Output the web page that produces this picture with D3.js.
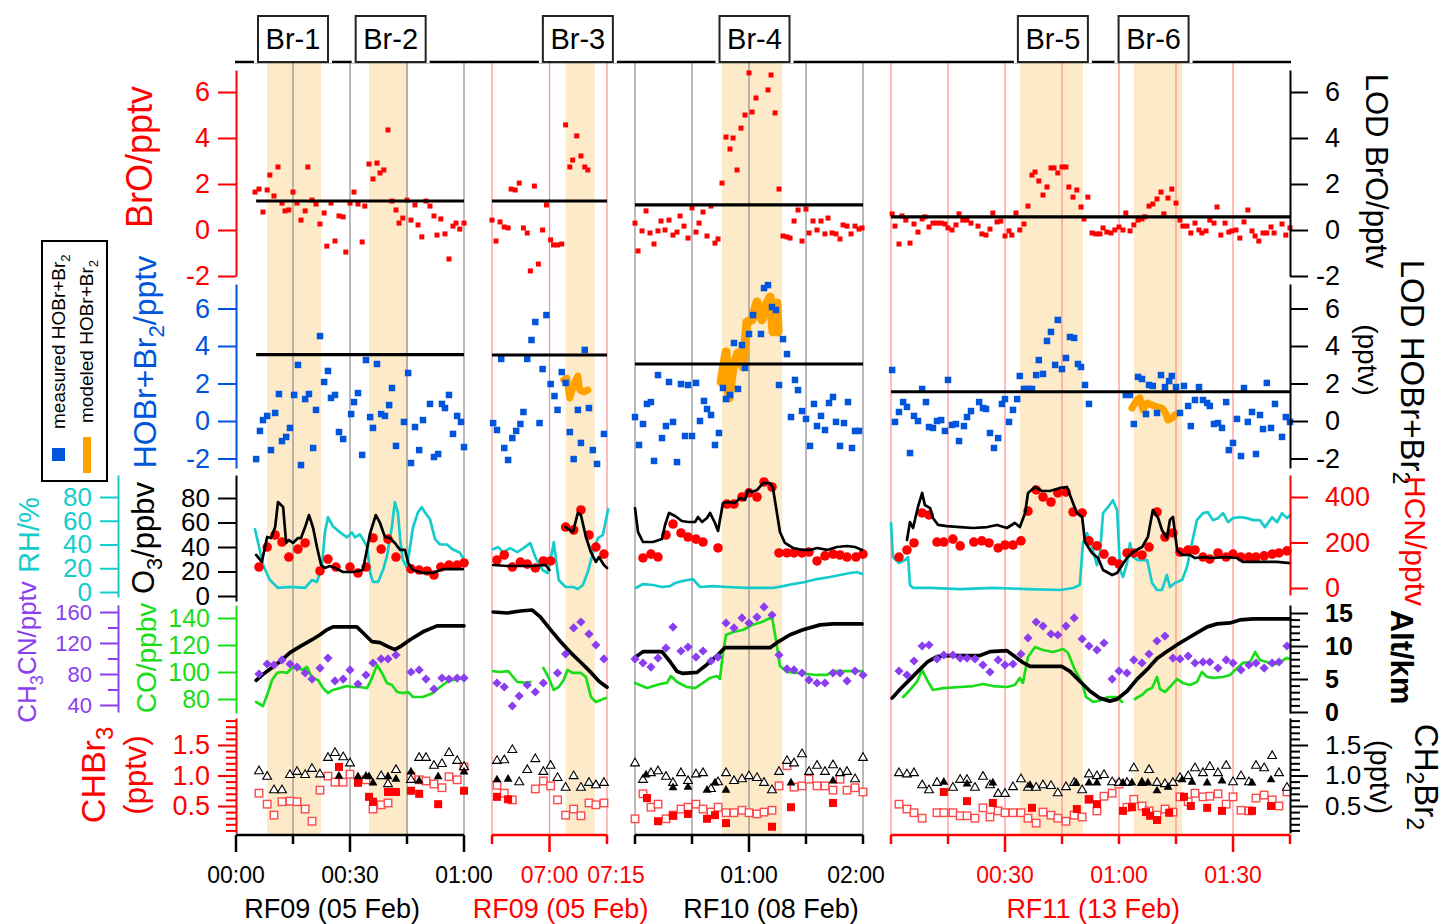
<!DOCTYPE html>
<html lang="en">
<head>
<meta charset="UTF-8">
<title>Bromine events RF09-RF11</title>
<script src="https://cdn.jsdelivr.net/npm/d3@7"></script>
<style>
  body { margin: 0; background: #fff; }
  svg { display: block; }
</style>
</head>
<body>
<svg id="svg" width="1444" height="924"></svg>
<script>
// ---- data (time in minutes within each flight window, value in axis units) ----
// windows: RF09 00:00-01:00, RF09 06:45-07:15, RF10 00:00-02:00, RF11 00:00-01:45
const segWindows = [[0, 60], [405, 435], [0, 120], [0, 105]];
const flightLabels = [["RF09 (05 Feb)", 25.3], ["RF09 (05 Feb)", 422.9], ["RF10 (08 Feb)", 71.6], ["RF11 (13 Feb)", 53.2]];
const tickTimes = [[0, 15, 30, 45, 60], [405, 420, 435], [0, 30, 60, 90, 120], [0, 15, 30, 45, 60, 75, 90, 105]];
const longTicks = [[0, 30, 60], [420], [60], [30, 90]];
const tickLabels = [
  [[0, "00:00", 0], [30, "00:30", 0], [60, "01:00", 0]],
  [[420, "07:00", 0], [435, "07:15", 9]],
  [[60, "01:00", 0], [120, "02:00", -7]],
  [[30, "00:30", 0], [60, "01:00", 0], [90, "01:30", 0]]
];
const gridTimes = [[15, 30, 45, 60], [405, 420, 435], [0, 30, 60, 90, 120], [0, 15, 30, 45, 60, 75, 90]];
// event name, window, start, end, label centre
const events = [["Br-1", 0, 8.2, 22.4, 15], ["Br-2", 0, 35, 45.3, 40.7], ["Br-3", 1, 424.2, 431.8, 427.4],
  ["Br-4", 2, 45.8, 77.4, 62.9], ["Br-5", 3, 33.9, 50.5, 42.6], ["Br-6", 3, 63.9, 76.6, 69.1]];

const broLOD = [1.26, 1.26, 1.09, 0.57];
const hobrLOD = [3.54, 3.52, 3.04, 1.56];
const lodSpan = [[5.3, 60], [405, 435], [0, 120], [0, 105]];

const broData = [
  [[5.0,1.65],[6.05,1.78],[7.1,0.78],[8.2,1.74],[8.9,2.39],[10.0,1.48],[11.05,2.74],[12.1,1.17],[12.9,0.83],[13.9,0.87],[15.0,1.65],[16.05,1.17],[17.1,0.43],[18.2,0.83],[18.9,2.74],[20.0,1.30],[21.05,1.13],[22.1,0.26],[23.2,0.74],[23.9,-0.70],[25.0,1.17],[26.05,-0.48],[27.1,0.61],[28.2,0.57],[28.9,-0.96],[30.0,1.17],[31.05,1.65],[32.1,1.13],[33.2,-0.52],[33.9,1.04],[35.0,2.87],[36.05,2.22],[37.1,2.91],[37.9,2.48],[38.9,2.61],[40.0,4.35],[41.05,1.26],[42.1,0.87],[42.9,0.30],[43.9,0.52],[45.0,1.30],[46.05,0.43],[47.1,1.09],[47.9,0.22],[48.9,-0.30],[50.0,1.26],[51.05,1.04],[52.1,0.61],[52.9,-0.22],[53.9,0.48],[55.0,-0.17],[56.05,-1.26],[57.1,0.17],[57.9,0.30],[58.9,0.04],[60.0,0.30]],
  [[405.0,0.43],[406.05,-0.48],[407.1,0.35],[408.2,0.13],[409.2,0.09],[410.0,1.78],[411.05,1.74],[412.1,2.04],[413.2,0.09],[414.2,-0.13],[415.0,-1.78],[416.05,1.91],[417.1,-1.48],[418.2,0.0],[419.2,1.09],[420.3,-0.43],[421.05,-0.65],[422.1,-0.65],[423.2,-0.61],[424.2,4.57],[425.3,2.74],[426.05,3.04],[427.1,4.09],[428.2,3.22],[429.2,2.74],[430.0,2.61]],
  [[0,0.30],[1.6,-0.91],[3.7,-0.04],[5.8,0.83],[7.9,-0.13],[10.0,-0.61],[12.1,-0.04],[13.7,0.39],[15.8,0.0],[17.9,0.43],[20.0,-0.22],[22.1,-0.09],[23.7,0.61],[25.8,0.17],[27.9,-0.35],[30.0,0.96],[32.1,-0.09],[33.7,0.30],[35.8,0.78],[37.9,-0.26],[40.0,1.04],[42.1,-0.57],[43.7,-0.39],[45.8,2.04],[47.9,4.04],[50.0,3.52],[51.6,4.0],[53.7,2.61],[55.8,4.43],[57.9,5.0],[60.0,6.83],[61.6,5.13],[63.7,5.74],[70.0,6.09],[71.6,6.74],[73.7,5.09],[75.8,1.78],[77.9,-0.26],[80.0,-0.30],[81.6,-0.35],[83.7,0.39],[85.8,0.87],[87.9,-0.48],[90.0,0.91],[91.6,-0.13],[93.7,0.39],[95.8,0.0],[97.9,0.39],[100.0,-0.17],[101.6,0.52],[103.7,-0.13],[105.8,-0.17],[107.9,-0.39],[109.5,0.22],[111.6,0.17],[113.7,-0.17],[115.8,0.17],[117.9,0.04],[119.5,0.09]],
  [[0.3,0.70],[1.05,0.17],[2.1,-0.61],[2.9,0.61],[3.9,0.43],[5.0,-0.57],[6.05,0.26],[7.1,-0.09],[8.2,0.48],[8.9,0.57],[10.0,0.13],[11.05,0.30],[12.1,0.30],[13.2,0.30],[14.2,0.26],[15.0,0.09],[16.05,0.0],[17.1,0.22],[17.9,0.70],[18.9,0.43],[20.0,0.43],[21.05,0.30],[22.9,0.17],[23.9,-0.17],[25.0,-0.22],[26.05,0.04],[26.8,0.74],[27.9,0.35],[28.9,0.39],[30.0,-0.26],[31.05,-0.04],[31.8,-0.22],[32.9,0.74],[33.9,0.0],[35.0,0.26],[36.05,1.04],[37.1,2.39],[37.9,2.52],[38.9,2.13],[40.0,1.52],[41.05,1.87],[42.1,2.70],[42.9,2.70],[43.9,2.48],[45.0,2.74],[46.05,2.74],[46.8,1.87],[47.9,1.43],[48.9,1.74],[50.0,1.0],[50.8,0.48],[51.8,1.43],[52.9,-0.13],[53.9,-0.17],[55.0,-0.17],[55.8,0.09],[56.8,-0.09],[57.9,-0.13],[58.9,0.0],[60.0,0.13],[61.05,0.0],[61.8,0.74],[62.9,-0.04],[63.9,0.22],[65.0,0.43],[66.05,0.48],[66.8,0.57],[67.9,1.04],[68.9,1.13],[70.0,1.35],[71.05,1.65],[71.8,0.70],[72.9,1.39],[73.9,1.78],[75.0,1.17],[76.05,0.43],[76.8,0.17],[77.9,0.17],[78.9,-0.13],[80.0,0.30],[81.05,0.0],[81.8,-0.13],[82.9,-0.04],[83.9,0.43],[85.0,0.30],[85.8,1.0],[86.8,-0.22],[87.9,0.30],[88.9,-0.09],[89.7,-0.04],[90.8,0.0],[91.8,-0.35],[92.9,0.35],[93.9,0.87],[95.0,-0.04],[95.8,-0.26],[96.8,-0.48],[97.9,-0.13],[98.9,-0.13],[100.0,0.13],[100.8,-0.13],[102.9,0.26],[103.9,-0.22],[105.0,0.09]]
];

const hobrData = [
  [[5.3,-2.03],[6.3,-0.53],[7.1,0.05],[8.2,0.27],[9.2,-1.55],[10.3,0.43],[11.3,1.44],[12.1,-1.07],[13.2,-0.85],[14.2,-0.37],[15.3,1.39],[16.3,2.99],[17.1,-2.35],[18.2,1.17],[19.2,1.44],[20.3,-1.44],[21.05,0.59],[22.1,4.53],[23.2,2.08],[24.2,2.67],[25.0,1.23],[26.05,1.39],[27.1,-0.59],[28.2,-0.96],[30.3,0.37],[31.05,1.01],[32.1,1.49],[33.2,-1.81],[34.2,3.25],[35.3,0.21],[36.05,-0.37],[37.1,3.04],[38.2,0.37],[39.2,0.27],[40.3,0.85],[41.05,1.76],[42.1,-1.33],[44.2,-0.05],[45.3,2.56],[46.05,-2.24],[47.1,-0.32],[48.2,-1.55],[49.2,0.05],[51.05,0.91],[52.1,-1.92],[53.2,-1.76],[54.2,0.91],[55.0,0.69],[56.05,1.39],[57.1,-0.69],[58.2,0.27],[59.2,-0.05],[60.0,-1.39]],
  [[405.3,-0.11],[406.3,-0.48],[407.4,3.31],[408.2,-1.44],[409.2,-2.08],[410.3,-0.91],[411.3,-0.53],[412.4,-0.16],[413.2,0.48],[414.2,3.31],[415.3,4.32],[416.3,5.28],[417.4,-0.11],[418.2,2.77],[419.2,5.65],[420.3,1.97],[421.3,1.33],[422.1,0.59],[423.2,2.61],[424.2,2.03],[425.3,-0.59],[426.3,-2.03],[427.4,0.59],[428.2,-1.17],[429.2,3.79],[430.3,0.69],[431.3,-1.55],[432.4,-2.29],[434.2,-0.69]],
  [[0,0.21],[2.1,-1.28],[4.2,-0.16],[6.3,0.91],[8.4,1.01],[10.0,-2.13],[12.1,2.45],[14.2,-0.91],[16.3,-0.27],[17.9,2.08],[20.0,-0.05],[22.1,-2.19],[24.2,1.97],[26.3,-0.80],[27.9,1.92],[30.0,-0.80],[32.1,2.03],[34.2,0.0],[36.3,1.07],[37.9,0.64],[40.0,0.32],[42.1,-1.28],[44.2,-0.64],[46.3,1.76],[47.9,1.17],[50.0,1.39],[52.1,4.16],[54.2,1.71],[56.3,4.05],[57.9,2.83],[60.0,4.64],[62.1,5.65],[66.3,4.64],[67.9,7.09],[70.0,7.25],[72.1,6.08],[74.2,5.92],[75.8,1.92],[77.9,4.37],[80.0,3.57],[82.1,0.21],[84.2,2.19],[85.8,1.65],[87.9,0.53],[90.0,0.11],[92.1,-1.33],[94.2,0.91],[95.8,-0.27],[97.9,0.27],[100.0,-0.48],[102.1,0.96],[104.2,1.28],[105.8,-0.05],[107.9,-1.33],[110.0,-0.11],[112.1,1.01],[114.2,-1.44],[115.8,-0.53],[117.9,-0.53]],
  [[0.3,2.72],[1.05,-0.05],[2.1,0.48],[3.2,1.01],[4.2,0.75],[5.0,-1.71],[6.05,0.27],[7.1,0.0],[8.2,1.71],[9.2,1.01],[10.0,-0.32],[11.05,-0.37],[12.1,0.0],[13.2,0.05],[14.2,-0.53],[15.0,2.19],[16.05,-0.21],[17.1,-0.16],[17.9,-1.07],[19.2,-0.27],[20.0,0.21],[21.05,0.53],[23.2,1.01],[24.2,0.69],[25.0,0.64],[26.05,-0.64],[27.1,-1.44],[28.2,-0.91],[29.2,0.91],[30.0,1.17],[31.05,-0.05],[32.1,0.59],[33.2,1.17],[33.9,2.40],[35.0,1.71],[36.05,1.71],[37.1,1.71],[38.2,2.45],[38.9,3.25],[40.0,2.51],[41.05,4.27],[42.1,4.75],[43.2,2.99],[43.9,5.39],[45.0,2.77],[46.05,3.36],[47.1,4.48],[48.2,4.43],[49.2,3.04],[50.0,2.88],[51.05,1.92],[52.1,0.91],[61.8,1.39],[62.9,1.39],[63.9,-0.16],[65.0,2.35],[66.05,2.24],[67.1,0.37],[67.9,1.92],[68.9,1.87],[70.0,0.43],[71.05,2.45],[72.1,1.81],[73.2,2.13],[73.9,2.40],[75.0,1.81],[76.05,0.43],[77.1,1.87],[78.2,0.80],[78.9,-0.27],[80.0,1.12],[81.05,1.81],[82.1,1.12],[83.2,0.96],[83.9,0.80],[85.0,-0.16],[86.05,-0.11],[87.1,-0.37],[88.2,1.01],[88.9,-1.55],[90.0,-1.17],[91.05,0.11],[92.1,-1.87],[92.9,1.76],[93.9,-0.05],[95.0,0.48],[96.05,-1.76],[97.1,0.32],[97.9,-0.43],[98.9,2.03],[100.0,-0.37],[101.05,0.91],[102.9,-0.85],[103.9,0.21],[105.0,-0.05]]
];

const hobrModel = [
  [],
  [[423.7,2.19],[424.5,2.29],[425.3,1.23],[426.3,1.92],[427.4,2.40],[427.9,1.65],[428.9,1.55],[430.0,1.65]],
  [[45.3,2.08],[47.9,3.68],[49.5,1.23],[51.6,2.88],[54.2,3.63],[56.8,2.88],[58.9,5.28],[61.6,5.39],[64.2,6.35],[66.8,5.39],[68.4,6.08],[71.1,6.61],[72.6,4.75],[74.7,6.29],[75.3,4.75]],
  [[63.4,0.69],[64.7,1.12],[65.5,1.23],[66.3,0.59],[67.4,0.96],[68.7,0.85],[70.0,0.75],[71.3,0.69],[72.1,0.48],[72.9,0.05],[74.0,0.16],[74.7,0.32]]
];

const o3Data = [
  [[5.3,33.5],[6.8,27.8],[8.2,48.2],[9.2,47.3],[10.3,56.3],[11.05,76.7],[12.4,72.7],[13.2,43.3],[13.9,45.7],[15.0,43.3],[16.3,47.3],[17.1,47.3],[18.2,56.3],[19.2,66.1],[20.3,55.5],[21.3,40.0],[22.4,25.3],[23.4,22.9],[24.7,24.5],[26.05,22.9],[28.2,19.6],[30.8,19.6],[33.4,21.2],[35.3,51.4],[36.8,66.1],[37.9,59.6],[39.2,48.2],[40.5,47.3],[41.8,43.3],[43.2,37.6],[44.5,37.6],[45.3,26.9],[46.6,21.2],[49.2,18.8],[51.8,18.8],[54.5,22.0],[57.1,22.0],[59.7,22.0]],
  [[405.3,25.3],[408.9,24.5],[412.4,24.5],[415.8,24.5],[419.0,25.3],[420.0,21.2],[422,null],[424.2,56.3],[426.1,52.2],[427.4,67.8],[428.2,66.1],[429.5,48.2],[430.8,35.9],[432.1,27.8],[432.9,31.8],[434.2,25.3],[435.0,22.9]],
  [[0,71.8],[1.6,52.2],[4.2,44.1],[9.5,44.1],[14.2,46.5],[15.8,58.0],[17.9,67.8],[21.1,65.3],[24.7,61.2],[27.9,60.4],[31.6,60.4],[33.2,64.5],[35.3,60.4],[37.9,63.7],[39.5,67.8],[42.1,59.6],[43.7,53.1],[46.3,75.9],[48.9,76.7],[52.6,75.9],[55.3,80.0],[57.9,78.4],[59.5,86.5],[61.6,84.9],[64.2,86.5],[67.4,92.2],[71.1,92.2],[72.6,88.2],[74.7,67.8],[76.3,52.2],[78.9,43.3],[83.2,39.2],[87.9,37.6],[92.1,37.6],[95.8,39.2],[101.1,37.6],[106.3,40.0],[111.6,40.8],[115.8,40.0],[119.5,37.6]],
  [[4.2,45.7],[5.0,60.4],[5.8,55.5],[7.1,72.7],[8.2,84.1],[8.9,74.3],[10.3,71.8],[11.05,63.7],[12.4,58.0],[14.7,57.1],[18.2,56.3],[21.6,55.5],[25.3,56.3],[27.9,58.0],[30.5,55.5],[32.6,59.6],[33.9,56.3],[35.3,67.8],[36.05,84.1],[37.9,89.0],[39.7,85.7],[41.8,85.7],[44.5,88.2],[46.3,89.0],[47.6,78.4],[48.9,67.8],[50.3,64.5],[51.05,44.1],[52.9,35.1],[54.5,31.0],[55.8,21.2],[58.2,17.1],[59.5,18.8],[60.8,25.3],[62.1,31.0],[63.7,35.9],[66.1,40.0],[67.6,48.2],[68.9,70.2],[70.3,63.7],[71.3,53.9],[72.6,47.3],[73.4,62.0],[74.2,64.5],[75.3,37.6],[76.6,33.5],[78.7,33.5],[80.0,31.0],[82.1,31.8],[84.7,31.0],[88.4,31.8],[91.1,31.0],[92.6,27.8],[97.1,27.8],[101.6,27.8],[105.0,26.9]]
];

const rhData = [
  [[5.0,52.8],[5.8,41.7],[7.1,23.0],[8.9,10.2],[11.05,3.4],[14.2,4.3],[18.2,3.4],[20.0,10.2],[21.3,8.5],[22.6,21.3],[23.4,50.2],[24.2,63.0],[25.5,55.3],[27.4,50.2],[29.2,46.0],[30.5,50.2],[31.3,46.0],[32.6,48.5],[33.4,44.3],[34.5,38.3],[35.3,16.2],[36.05,8.5],[37.4,8.5],[38.7,18.7],[39.7,29.8],[41.05,55.3],[41.8,75.7],[42.6,67.2],[43.2,44.3],[43.9,27.2],[45.0,20.4],[45.8,38.3],[46.6,54.5],[47.9,67.2],[48.9,71.5],[49.7,67.2],[51.05,61.3],[52.4,44.3],[53.7,40.0],[55.5,40.0],[57.1,35.7],[58.9,33.2],[60.0,27.2]],
  [[405.3,36.1],[406.6,37.8],[407.9,33.6],[409.7,37.0],[411.6,33.6],[413.2,37.0],[415.0,41.2],[416.3,29.4],[418.2,18.5],[419.5,16.0],[420.3,26.9],[421.1,42.0],[422.4,10.1],[424.2,4.2],[426.1,4.2],[427.4,2.5],[428.7,5.9],[430.0,16.8],[431.3,32.8],[432.6,45.4],[433.9,47.9],[435.3,69.7]],
  [[0.5,3.4],[4.2,6.7],[9.5,5.9],[14.2,4.2],[18.4,5.0],[21.1,7.6],[24.7,9.2],[27.9,10.1],[30.5,10.9],[34.2,4.2],[41.1,5.0],[48.4,4.2],[58.9,3.4],[72.6,3.4],[77.9,5.0],[83.2,6.7],[89.5,8.4],[95.8,10.9],[102.6,12.6],[107.9,14.3],[113.2,16.0],[116.8,16.8],[119.5,15.1]],
  [[0,58.0],[0.5,29.4],[2.1,24.4],[3.7,26.9],[4.5,29.4],[5.0,5.9],[5.8,3.4],[10.3,3.4],[18.2,2.5],[26.8,3.4],[35.8,2.5],[44.5,1.7],[47.9,3.4],[49.7,5.9],[50.5,41.2],[51.6,49.6],[52.9,37.8],[54.2,22.7],[55.0,32.8],[55.8,66.4],[57.1,71.4],[58.4,77.3],[59.5,68.9],[60.3,18.5],[61.05,12.6],[62.1,24.4],[62.9,41.2],[63.7,29.4],[65.0,26.9],[67.4,26.9],[68.7,7.6],[70.0,1.7],[71.3,1.7],[72.6,14.3],[73.4,4.2],[74.7,7.6],[76.6,10.1],[77.9,21.0],[79.2,41.2],[80.5,60.5],[82.1,66.4],[83.4,67.2],[84.7,60.5],[86.05,62.2],[87.4,66.4],[88.7,58.8],[90.0,62.2],[91.8,63.0],[93.7,62.2],[95.3,60.5],[97.1,60.5],[98.4,54.6],[100.3,63.0],[101.6,58.8],[102.9,66.4],[104.2,62.2],[105.0,64.7]]
];

const hcnData = [
  [[6.05,92],[8.2,180],[10.3,233],[12.1,202],[13.9,136],[16.3,171],[18.2,198],[22.1,75],[24.2,127],[26.3,92],[30.0,92],[32.1,66],[34.2,92],[36.05,220],[38.2,171],[40.0,215],[42.1,136],[46.05,84],[48.2,79],[50.3,75],[52.1,57],[53.9,92],[56.05,101],[58.2,101],[60.0,110]],
  [[406.3,123],[408.2,145],[410.3,92],[412.4,114],[414.2,105],[416.3,88],[418.4,119],[420.3,119],[424.2,268],[426.3,255],[428.2,343],[430.3,233],[432.1,180],[434.2,149]],
  [[4.2,132],[8.4,149],[12.1,136],[16.3,233],[20.0,281],[24.2,242],[27.9,224],[32.1,215],[35.8,202],[43.7,176],[48.4,369],[52.1,369],[56.3,400],[60.0,418],[64.2,400],[67.9,466],[72.1,444],[75.8,154],[80.0,154],[83.7,154],[87.9,154],[91.6,158],[95.8,119],[100.0,141],[104.2,149],[107.9,145],[111.6,136],[116.3,136],[120.0,149]],
  [[2.1,136],[4.2,167],[6.05,198],[8.2,330],[10.0,321],[12.1,202],[13.9,202],[16.3,215],[18.2,185],[21.8,202],[23.9,207],[25.8,198],[28.2,176],[30.0,189],[32.1,189],[34.2,207],[36.05,338],[38.2,431],[40.0,400],[42.1,378],[43.9,418],[46.05,422],[47.9,334],[50.3,330],[52.1,207],[54.2,185],[56.05,149],[58.2,119],[60.0,105],[62.1,154],[63.9,154],[66.05,145],[67.9,180],[70.0,334],[72.1,224],[74.2,242],[76.05,158],[78.2,167],[80.0,167],[82.1,136],[83.9,127],[86.05,154],[88.2,136],[90.0,149],[92.1,136],[94.2,136],[96.05,136],[98.2,141],[100.3,149],[102.1,154],[104.2,163]]
];

const coData = [
  [[5.3,77.8],[7.1,74.8],[8.2,83.0],[9.5,94.1],[10.8,99.3],[12.1,100.0],[13.4,99.3],[14.7,103.0],[16.05,103.7],[17.4,101.5],[18.7,103.7],[20.0,95.6],[21.6,94.1],[22.9,88.1],[24.2,84.4],[25.5,86.7],[27.4,88.1],[29.2,89.6],[30.8,88.9],[32.6,88.9],[34.5,88.1],[35.8,95.6],[37.1,105.2],[38.4,99.3],[39.7,91.9],[41.05,90.4],[42.4,85.2],[43.9,84.4],[45.3,85.2],[46.6,81.5],[49.2,81.5],[51.8,84.4],[53.7,88.9],[55.5,92.6],[57.1,94.1],[60.0,95.6]],
  [[405.3,100.7],[407.1,100.0],[409.2,100.7],[410.5,96.3],[411.6,92.6],[414.2,91.9],[415.0,92.6],[416.5,null],[418.4,103.0],[419.7,96.3],[421.1,86.7],[422.4,88.9],[423.7,94.1],[424.7,101.5],[426.1,99.3],[428.2,99.3],[429.5,96.3],[430.8,81.5],[432.1,77.8],[434.7,80.7]],
  [[0,91.9],[6.3,88.1],[13.2,91.1],[16.8,91.9],[18.9,97.0],[22.1,92.6],[27.4,88.9],[31.6,88.1],[35.8,91.9],[39.5,95.6],[43.2,97.0],[44.7,94.8],[46.3,114.1],[47.9,127.4],[51.6,129.6],[56.8,131.1],[61.6,134.8],[66.8,137.0],[72.1,140.7],[74.2,123.7],[76.3,104.4],[80.0,100.0],[85.3,99.3],[90.5,98.5],[95.8,97.8],[101.1,97.8],[104.2,100.7],[111.6,100.7],[119.5,100.7]],
  [[3.2,81.5],[5.0,86.7],[6.8,92.6],[8.2,101.5],[9.5,94.1],[11.05,86.7],[13.7,88.1],[18.2,88.9],[21.6,89.6],[24.2,91.1],[26.8,89.6],[30.5,88.9],[32.6,90.4],[33.9,95.6],[34.7,91.9],[36.05,111.1],[37.9,118.5],[40.0,116.3],[42.6,114.8],[45.3,117.0],[46.6,114.1],[48.4,101.5],[50.3,91.9],[51.3,81.5],[53.2,77.8],[55.5,79.3],[57.1,81.5],[59.5,81.5],[60.8,77.8],[62.5,null],[64.2,80.0],[66.05,83.0],[67.4,86.7],[68.7,88.1],[70.0,96.3],[70.8,87.4],[72.1,85.2],[73.9,90.4],[75.3,94.8],[76.8,91.9],[78.7,90.4],[80.5,92.6],[81.8,100.0],[83.2,96.3],[84.7,95.6],[87.4,96.3],[89.2,97.8],[91.1,103.0],[92.6,106.7],[94.5,107.4],[95.8,114.8],[97.1,108.9],[98.9,107.4],[100.5,105.2],[102.4,107.4],[104.2,110.4],[105.0,109.6]]
];

const ch3cnData = [
  [[6.05,80.0],[8.2,92.9],[10.0,91.6],[12.1,98.1],[14.2,92.9],[16.05,89.0],[18.2,81.3],[20.0,73.5],[22.1,87.7],[24.2,100.6],[26.05,71.0],[28.2,73.5],[30.0,85.2],[32.1,67.1],[34.2,78.7],[36.05,94.2],[38.2,99.4],[40.0,99.4],[42.1,104.5],[46.05,82.6],[48.2,85.2],[50.0,73.5],[52.1,60.6],[54.2,74.8],[56.05,73.5],[58.2,74.8],[60.0,74.8]],
  [[406.3,68.4],[408.2,63.2],[410.3,38.7],[412.1,51.6],[414.2,65.8],[416.3,56.8],[418.4,68.4],[422.1,81.3],[424.2,105.8],[426.3,139.4],[428.2,147.1],[430.3,131.6],[432.1,117.4],[434.2,99.4]],
  [[0,99.4],[4.2,94.2],[8.4,89.0],[12.1,100.6],[16.3,113.5],[20.0,140.6],[24.2,109.7],[27.9,114.8],[32.1,101.9],[35.8,109.7],[40.0,96.8],[43.7,101.9],[47.9,145.8],[52.1,139.4],[56.3,152.3],[60.0,145.8],[64.2,153.5],[67.9,166.5],[72.1,156.1],[75.8,104.5],[80.0,86.5],[83.7,85.2],[87.9,81.3],[91.6,72.3],[95.8,68.4],[100.0,68.4],[104.2,81.3],[107.9,81.3],[111.6,71.0],[115.8,83.9],[120.0,78.7]],
  [[2.1,83.9],[4.2,78.7],[6.05,96.8],[8.2,116.1],[10.0,117.4],[12.1,99.4],[13.9,104.5],[16.3,104.5],[18.2,100.6],[20.0,100.6],[22.1,99.4],[24.2,91.6],[26.05,82.6],[28.2,98.1],[30.0,91.6],[32.1,92.9],[34.2,105.8],[36.05,126.5],[38.2,147.1],[40.0,141.9],[42.1,131.6],[43.9,130.3],[46.05,141.9],[48.2,152.3],[50.3,125.2],[52.1,116.1],[54.2,111.0],[56.05,120.0],[58.2,73.5],[60.0,83.9],[62.1,81.3],[63.9,98.1],[66.05,94.2],[67.9,105.8],[70.0,122.6],[72.1,129.0],[74.2,100.6],[76.05,99.4],[78.2,103.2],[80.0,94.2],[82.1,95.5],[83.9,95.5],[86.05,87.7],[88.2,98.1],[90.0,94.2],[92.1,85.2],[94.2,91.6],[96.05,94.2],[98.2,87.7],[100.3,94.2],[102.1,95.5],[104.2,116.1]]
];

const altData = [
  [[5.3,4.8],[7.1,5.7],[9.5,6.75],[11.6,7.65],[14.2,9.0],[16.8,9.9],[20.0,10.95],[22.1,11.7],[23.9,12.45],[25.5,12.9],[28.2,12.9],[31.8,12.9],[33.4,12.0],[35.8,10.65],[37.9,10.5],[40.0,9.9],[41.8,9.45],[43.2,9.9],[45.8,10.95],[49.2,12.15],[52.9,13.05],[56.3,13.05],[60.0,13.05]],
  [[405.3,15.15],[408.9,15.0],[412.4,15.3],[415.5,15.45],[417.6,14.4],[420.3,12.45],[422.9,10.65],[425.5,9.0],[428.2,7.5],[430.8,6.0],[432.9,4.65],[435.0,3.75]],
  [[0,8.25],[4.2,9.15],[14.2,9.15],[18.4,7.65],[22.1,6.15],[25.3,5.85],[32.6,6.0],[37.9,7.2],[43.2,8.55],[47.4,9.75],[58.9,9.75],[71.1,9.75],[74.7,10.5],[81.6,11.7],[88.4,12.45],[97.4,13.2],[104.2,13.35],[119.5,13.35]],
  [[0.3,2.1],[2.4,3.45],[5.0,4.95],[7.6,6.45],[9.7,7.65],[12.1,8.4],[14.7,8.55],[18.2,8.55],[23.4,8.55],[26.05,9.15],[30.5,9.3],[32.6,8.4],[34.7,7.5],[36.6,6.9],[40.0,6.9],[45.0,6.9],[47.1,6.15],[49.7,4.65],[52.4,3.15],[55.0,2.1],[57.6,1.65],[59.5,1.95],[62.1,3.15],[64.7,4.95],[67.4,6.45],[70.0,8.1],[72.6,9.15],[75.3,10.2],[77.9,11.1],[80.5,12.0],[83.2,12.9],[85.8,13.35],[89.2,13.5],[91.8,13.95],[95.3,14.1],[105.0,14.1]]
];

const ch2br2Open = [
  [[6.05,1.07],[8.2,0.98],[10.0,0.76],[12.1,0.76],[14.2,1.01],[16.05,1.06],[18.2,1.01],[20.0,1.11],[22.1,1.02],[24.2,1.29],[26.05,1.37],[28.2,1.30],[30.0,1.20],[38.2,0.99],[40.0,0.86],[42.1,1.09],[46.05,0.93],[48.2,1.29],[50.0,1.29],[52.1,1.16],[54.2,1.19],[56.05,1.37],[58.2,1.24],[60.0,1.14]],
  [[406.3,1.24],[408.2,1.25],[410.3,1.42],[412.1,0.89],[414.2,1.09],[416.3,1.27],[418.4,1.06],[420.3,1.16],[422.1,0.96],[424.2,0.80],[426.3,0.99],[428.2,0.80],[430.3,0.88],[432.1,0.84],[434.2,0.88]],
  [[0,1.20],[4.2,0.93],[8.4,1.04],[12.1,1.07],[16.3,0.98],[20.0,0.88],[24.2,1.04],[27.9,0.91],[32.1,1.02],[35.8,1.04],[40.0,0.78],[43.7,0.89],[47.9,1.04],[52.1,0.91],[56.3,0.94],[60.0,0.99],[64.2,0.96],[67.9,0.88],[72.1,0.76],[75.8,1.06],[80.0,1.24],[83.7,1.20],[87.9,1.35],[91.6,1.06],[95.8,1.16],[100.0,1.06],[104.2,1.17],[107.9,1.04],[111.6,1.06],[115.8,0.94],[120.0,1.29]],
  [[2.1,1.04],[4.2,1.02],[6.05,1.04],[8.2,0.84],[10.0,0.76],[12.1,0.88],[16.3,0.80],[18.2,0.93],[20.0,0.93],[22.1,0.80],[24.2,0.98],[26.05,0.84],[28.2,0.70],[30.0,0.70],[32.1,0.81],[34.2,0.94],[36.05,0.80],[38.2,0.80],[40.0,0.84],[42.1,0.83],[43.9,0.71],[46.05,0.81],[48.2,0.88],[50.3,0.76],[52.1,1.02],[54.2,0.99],[56.05,1.01],[58.2,0.89],[60.0,0.88],[62.1,0.88],[63.9,1.12],[66.05,0.88],[67.9,1.09],[70.0,0.88],[72.1,0.86],[74.2,0.88],[76.05,0.96],[78.2,0.99],[80.0,1.12],[82.1,1.04],[83.9,1.14],[86.05,1.04],[88.2,1.16],[90.0,0.89],[92.1,0.99],[94.2,0.89],[96.05,1.16],[98.2,1.12],[100.3,1.32],[102.1,1.04],[104.2,0.80]]
];
const ch2br2Fill = [
  [[27.1,0.99],[32.1,0.98],[34.2,0.99],[35.0,0.98],[36.05,0.88],[40.0,0.98],[42.1,0.94],[46.05,1.06],[48.2,0.91],[53.2,0.98],[60.0,1.06]],
  [[406.3,0.93],[409.2,0.94]],
  [[5.8,1.01],[20.0,0.80],[27.9,0.81],[37.9,0.76],[42.1,0.88],[47.9,0.76],[82.1,0.88],[104.2,0.91]],
  [[13.9,0.89],[20.0,0.86],[26.8,0.88],[36.6,0.84],[48.7,0.88],[52.1,0.88],[54.2,0.88],[61.05,0.88],[63.4,0.88],[66.05,0.88],[67.6,0.88],[70.0,0.75],[72.9,0.81],[76.6,0.93],[79.2,0.89],[83.2,0.88],[87.1,0.91],[95.0,0.88],[100.0,0.93]]
];
const chbr3Open = [
  [[6.05,0.71],[8.2,0.53],[10.0,0.35],[12.1,0.57],[14.2,0.58],[16.05,0.57],[18.2,0.45],[20.0,0.25],[22.1,0.76],[24.2,0.99],[26.05,0.89],[28.2,0.89],[30.0,1.02],[34.2,0.93],[36.05,0.45],[38.2,0.52],[40.0,0.55],[46.05,0.99],[48.2,0.93],[50.0,0.91],[52.1,0.86],[54.2,0.80],[56.05,0.98],[58.2,0.93],[60.0,1.14]],
  [[406.3,0.84],[408.2,0.71],[410.3,0.60],[416.3,0.78],[418.4,0.91],[420.3,0.83],[422.1,0.60],[424.2,0.35],[426.3,0.45],[428.2,0.34],[430.3,0.55],[432.1,0.52],[434.2,0.55]],
  [[0,0.29],[4.2,0.70],[8.4,0.48],[12.1,0.53],[16.3,0.29],[20.0,0.35],[24.2,0.45],[27.9,0.48],[32.1,0.53],[35.8,0.45],[40.0,0.40],[43.7,0.48],[47.9,0.39],[52.1,0.39],[56.3,0.43],[60.0,0.39],[64.2,0.37],[67.9,0.40],[72.1,0.43],[75.8,0.83],[80.0,1.16],[83.7,0.81],[87.9,0.83],[91.6,0.94],[95.8,0.83],[100.0,0.83],[104.2,0.76],[107.9,0.94],[111.6,0.76],[115.8,0.80],[120.0,0.73]],
  [[2.1,0.53],[4.2,0.45],[6.05,0.39],[8.2,0.30],[12.1,0.39],[13.9,0.39],[16.3,0.39],[18.2,0.34],[20.0,0.34],[22.1,0.30],[24.2,0.47],[26.05,0.32],[28.2,0.42],[30.0,0.39],[32.1,0.39],[34.2,0.39],[36.05,0.30],[38.2,0.22],[40.0,0.40],[42.1,0.35],[43.9,0.30],[46.05,0.25],[48.2,0.35],[50.3,0.32],[52.1,0.61],[54.2,0.42],[56.05,0.66],[58.2,0.71],[60.0,0.86],[62.1,0.48],[63.9,0.61],[66.05,0.50],[67.9,0.42],[70.0,0.35],[72.1,0.45],[74.2,0.40],[76.05,0.65],[78.2,0.57],[80.0,0.71],[82.1,0.65],[83.9,0.66],[86.05,0.70],[88.2,0.53],[90.0,0.65],[92.1,0.43],[94.2,0.42],[96.05,0.63],[98.2,0.68],[100.3,0.60],[102.1,0.50],[104.2,0.73]]
];
const chbr3Fill = [
  [[27.1,1.14],[32.1,0.88],[35.0,0.65],[36.05,0.57],[40.0,0.73],[42.1,0.73],[46.05,0.75],[48.2,0.70],[53.2,0.53],[60.0,0.75]],
  [[406.3,0.65],[409.2,0.61]],
  [[6.3,0.63],[12.1,0.25],[20.0,0.34],[27.9,0.37],[37.9,0.29],[42.1,0.35],[47.9,0.22],[72.1,0.16],[82.1,0.48],[104.2,0.55]],
  [[13.9,0.73],[20.0,0.58],[26.8,0.55],[37.1,0.47],[48.9,0.45],[52.1,0.61],[54.2,0.53],[61.05,0.42],[63.4,0.48],[67.1,0.40],[68.2,0.34],[70.0,0.27],[73.2,0.39],[77.1,0.65],[78.9,0.50],[83.2,0.47],[87.1,0.42],[95.0,0.42],[100.0,0.50]]
];

// ---- layout & style ----
const FONT = "'Liberation Sans', Arial, Helvetica, sans-serif";
const RED = "#ff0000", BLUE = "#0055dd", CYAN = "#15cccc", GREEN = "#18dd18",
      PURPLE = "#8b3df0", ORANGE = "#ffa200", SHADE = "#fdeac8";
const segPx = [[236, 464], [492, 607], [635, 863], [891, 1290]];
const segColor = ["#000", RED, "#000", RED];
const gridColor = ["#8c8c8c", "#ff8c8c", "#8c8c8c", "#ff8c8c"];
const TOP = 62, BOTTOM = 835;

const svg = d3.select("#svg").attr("font-family", FONT);
svg.append("rect").attr("width", 1444).attr("height", 924).attr("fill", "#fff");

const xs = segWindows.map((w, i) => d3.scaleLinear().domain(w).range(segPx[i]));

// y scale from two calibration points, stretched to the drawn axis length
function yScale(v0, p0, v1, p1, top, bottom) {
  const s = d3.scaleLinear().domain([v0, v1]).range([p0, p1]);
  return s.domain([s.invert(bottom), s.invert(top)]).range([bottom, top]);
}
const yBrO = yScale(-2, 276, 6, 92, 70, 276);
const yHOBr = yScale(-2, 458.5, 6, 308.5, 284, 468);
const yO3 = yScale(0, 596, 80, 498, 475, 601);
const yRH = yScale(0, 592, 80, 497, 475, 597);
const yHCN = yScale(0, 588, 400, 497, 475, 595);
const yCO = yScale(80, 699, 140, 618, 605, 713);
const yCH3CN = yScale(40, 705, 160, 612, 605, 712);
const yAlt = yScale(0, 712, 15, 613, 605, 713);
const yBr = yScale(0.5, 806, 1.5, 745, 718, 833);

// shaded bromine events
events.forEach(([name, s, t0, t1]) => {
  svg.append("rect").attr("x", xs[s](t0)).attr("y", TOP)
    .attr("width", xs[s](t1) - xs[s](t0)).attr("height", BOTTOM - TOP).attr("fill", SHADE);
});

// vertical time grid
gridTimes.forEach((ts, i) => {
  svg.append("g").selectAll("line").data(ts).join("line")
    .attr("x1", d => xs[i](d)).attr("x2", d => xs[i](d))
    .attr("y1", TOP).attr("y2", BOTTOM)
    .attr("stroke", gridColor[i]).attr("stroke-width", 1.2);
});

// ---- mark helpers ----
function drawLine(data, y, color, width) {
  data.forEach((pts, i) => {
    svg.append("path").datum(pts)
      .attr("d", d3.line().defined(d => d[1] != null).x(d => xs[i](d[0])).y(d => y(d[1])))
      .attr("fill", "none").attr("stroke", color).attr("stroke-width", width)
      .attr("stroke-linejoin", "round").attr("stroke-linecap", "round");
  });
}
function drawSquares(data, y, s, fill, stroke) {
  data.forEach((pts, i) => {
    svg.append("g").selectAll("rect").data(pts).join("rect")
      .attr("x", d => xs[i](d[0]) - s / 2).attr("y", d => y(d[1]) - s / 2)
      .attr("width", s).attr("height", s)
      .attr("fill", fill).attr("stroke", stroke || "none").attr("stroke-width", 1.4);
  });
}
function drawSymbols(data, y, path, fill, stroke) {
  data.forEach((pts, i) => {
    svg.append("g").selectAll("path").data(pts).join("path")
      .attr("d", path)
      .attr("transform", d => `translate(${xs[i](d[0])},${y(d[1])})`)
      .attr("fill", fill).attr("stroke", stroke || "none").attr("stroke-width", 1.1);
  });
}
function drawCircles(data, y, r, fill) {
  data.forEach((pts, i) => {
    svg.append("g").selectAll("circle").data(pts).join("circle")
      .attr("cx", d => xs[i](d[0])).attr("cy", d => y(d[1])).attr("r", r).attr("fill", fill);
  });
}
function drawLOD(vals, y) {
  vals.forEach((v, i) => {
    svg.append("line").attr("x1", xs[i](lodSpan[i][0])).attr("x2", xs[i](lodSpan[i][1]))
      .attr("y1", y(v)).attr("y2", y(v)).attr("stroke", "#000").attr("stroke-width", 3.2);
  });
}

// panel 1: BrO
drawSquares(broData, yBrO, 5, RED);
drawLOD(broLOD, yBrO);

// panel 2: HOBr + Br2 (modelled band under the measured squares)
hobrModel.forEach((pts, i) => {
  svg.append("path").datum(pts)
    .attr("d", d3.line().x(d => xs[i](d[0])).y(d => yHOBr(d[1])))
    .attr("fill", "none").attr("stroke", ORANGE).attr("stroke-width", i === 2 ? 9 : 7)
    .attr("stroke-linejoin", "round").attr("stroke-linecap", "round");
});
drawSquares(hobrData, yHOBr, 6.5, BLUE);
drawLOD(hobrLOD, yHOBr);

// panel 3: RH, HCN, O3
drawLine(rhData, yRH, CYAN, 2.7);
drawCircles(hcnData, yHCN, 4.8, RED);
drawLine(o3Data, yO3, "#000", 2.7);

// panel 4: CO, altitude, CH3CN
drawLine(coData, yCO, GREEN, 2.7);
drawLine(altData, yAlt, "#000", 3.7);
drawSymbols(ch3cnData, yCH3CN, "M0,-4.6L4.6,0L0,4.6L-4.6,0Z", PURPLE);

// panel 5: CHBr3 and CH2Br2
const tri = d3.symbol(d3.symbolTriangle, 34)();
drawSquares(chbr3Open, yBr, 7.5, "#fff", "#ff4a4a");
drawSquares(chbr3Fill, yBr, 8, RED);
drawSymbols(ch2br2Open, yBr, tri, "#fff", "#000");
drawSymbols(ch2br2Fill, yBr, tri, "#000");

// ---- axes ----
function yAxis(side, scale, x, color, major, o = {}) {
  const make = side === "left" ? d3.axisLeft : d3.axisRight;
  const g = svg.append("g").attr("transform", `translate(${x},0)`)
    .call(make(scale).tickValues(major).tickSize(18).tickSizeOuter(0)
      .tickPadding(o.pad != null ? o.pad : 8).tickFormat(o.fmt || (d => String(d))));
  g.attr("font-family", FONT).attr("font-size", o.size || 26);
  g.select(".domain").attr("stroke", color).attr("stroke-width", 2);
  g.selectAll(".tick line").attr("stroke", color).attr("stroke-width", 2);
  g.selectAll(".tick text").attr("fill", color).attr("font-weight", o.bold ? "bold" : null);
  if (side === "right") g.selectAll(".tick text").attr("dx", d => d < 0 ? -9 : 0);
  if (o.minor) {
    const m = svg.append("g").attr("transform", `translate(${x},0)`)
      .call(make(scale).tickValues(o.minor).tickSize(10).tickSizeOuter(0).tickFormat(""));
    m.select(".domain").remove();
    m.selectAll(".tick line").attr("stroke", color).attr("stroke-width", 2);
  }
}
const f1 = d3.format(".1f");
const brMinor = d3.range(1, 20).map(d => d / 10).filter(d => ![0.5, 1, 1.5].includes(d));

yAxis("left", yBrO, 236, RED, [-2, 0, 2, 4, 6], { size: 27 });
yAxis("left", yHOBr, 236, BLUE, [-2, 0, 2, 4, 6], { size: 27 });
yAxis("left", yO3, 236, "#000", [0, 20, 40, 60, 80], { size: 26 });
yAxis("left", yRH, 118, CYAN, [0, 20, 40, 60, 80], { size: 26 });
yAxis("left", yCO, 236, GREEN, [80, 100, 120, 140], { size: 25 });
yAxis("left", yCH3CN, 118, PURPLE, [40, 80, 120, 160], { size: 22, minor: [60, 100, 140] });
yAxis("left", yBr, 236, RED, [0.5, 1.0, 1.5], { size: 27, fmt: f1, minor: brMinor });

yAxis("right", yBrO, 1290, "#000", [-2, 0, 2, 4, 6], { size: 27, pad: 17 });
yAxis("right", yHOBr, 1290, "#000", [-2, 0, 2, 4, 6], { size: 27, pad: 17 });
yAxis("right", yHCN, 1290, RED, [0, 200, 400], { size: 27, pad: 17 });
yAxis("right", yAlt, 1290, "#000", [0, 5, 10, 15], { size: 25, pad: 17, bold: true,
  minor: d3.range(1, 15).filter(d => d % 5) });
yAxis("right", yBr, 1290, "#000", [0.5, 1.0, 1.5], { size: 26, pad: 17, fmt: f1, minor: brMinor });

// bottom time axes
segPx.forEach(([a, b], i) => {
  const g = svg.append("g");
  g.append("line").attr("x1", a).attr("x2", b).attr("y1", BOTTOM).attr("y2", BOTTOM)
    .attr("stroke", segColor[i]).attr("stroke-width", 2.5);
  g.selectAll(".tk").data(tickTimes[i]).join("line")
    .attr("x1", d => xs[i](d)).attr("x2", d => xs[i](d))
    .attr("y1", BOTTOM).attr("y2", d => BOTTOM + (longTicks[i].includes(d) ? 17 : 9))
    .attr("stroke", segColor[i]).attr("stroke-width", 2.5);
  g.selectAll("text").data(tickLabels[i]).join("text")
    .attr("x", d => xs[i](d[0]) + d[2]).attr("y", 883)
    .attr("text-anchor", "middle").attr("font-size", 23).attr("fill", segColor[i])
    .text(d => d[1]);
  svg.append("text").attr("x", xs[i](flightLabels[i][1])).attr("y", 918)
    .attr("text-anchor", "middle").attr("font-size", 27).attr("fill", segColor[i])
    .text(flightLabels[i][0]);
});

// ---- titles ----
function rich(text, parts, shift) {
  let low = false;
  parts.forEach(p => {
    const sub = Array.isArray(p);
    const t = text.append("tspan").text(sub ? p[0] : p);
    if (sub && !low) { t.attr("dy", shift).attr("font-size", "70%"); low = true; }
    else if (!sub && low) { t.attr("dy", -shift); low = false; }
  });
}
function vlabel(x, y, rot, parts, size, color, bold) {
  const t = svg.append("text").attr("transform", `translate(${x},${y}) rotate(${rot})`)
    .attr("text-anchor", "middle").attr("dy", "0.35em")
    .attr("font-size", size).attr("fill", color);
  if (bold) t.attr("font-weight", "bold");
  rich(t, parts, size * 0.25);
}
vlabel(139, 157, -90, ["BrO/pptv"], 36, RED);
vlabel(145, 362, -90, ["HOBr+Br", ["2"], "/pptv"], 32, BLUE);
vlabel(143, 538, -90, ["O", ["3"], "/ppbv"], 31, "#000");
vlabel(29, 535, -90, ["RH/%"], 29, CYAN);
vlabel(146, 658, -90, ["CO/ppbv"], 28, GREEN);
vlabel(27, 652, -90, ["CH", ["3"], "CN/pptv"], 26, PURPLE);
vlabel(93, 775, -90, ["CHBr", ["3"]], 34, RED);
vlabel(135, 775, -90, ["(pptv)"], 31, RED);

vlabel(1377, 171, 90, ["LOD BrO/pptv"], 31, "#000");
vlabel(1413, 372, 90, ["LOD HOBr+Br", ["2"]], 33, "#000");
vlabel(1368, 360, 90, ["(pptv)"], 28, "#000");
vlabel(1415, 541, 90, ["HCN/pptv"], 30, RED);
vlabel(1402, 657, 90, ["Alt/km"], 31, "#000", true);
vlabel(1427, 777, 90, ["CH", ["2"], "Br", ["2"]], 33, "#000");
vlabel(1380, 777, 90, ["(pptv)"], 29, "#000");

// event header line and boxes
svg.append("line").attr("x1", 235).attr("x2", 1291).attr("y1", TOP).attr("y2", TOP)
  .attr("stroke", "#000").attr("stroke-width", 2.5);
events.forEach(([name, s, t0, t1, tc]) => {
  const cx = xs[s](tc);
  svg.append("rect").attr("x", cx - 39).attr("y", 10).attr("width", 78).attr("height", 53).attr("fill", "#fff");
  svg.append("rect").attr("x", cx - 35).attr("y", 16).attr("width", 70).attr("height", 46)
    .attr("fill", "#fff").attr("stroke", "#222").attr("stroke-width", 2);
  svg.append("text").attr("x", cx).attr("y", 49).attr("text-anchor", "middle")
    .attr("font-size", 29).attr("fill", "#000").text(name);
});

// legend
const lg = svg.append("g");
lg.append("rect").attr("x", 42).attr("y", 241).attr("width", 65).attr("height", 240)
  .attr("fill", "#fff").attr("stroke", "#000").attr("stroke-width", 2);
lg.append("rect").attr("x", 52).attr("y", 448).attr("width", 13).attr("height", 13).attr("fill", BLUE);
lg.append("rect").attr("x", 83).attr("y", 437).attr("width", 8).attr("height", 36).attr("fill", ORANGE);
[["measured HOBr+Br", 65, 429], ["modeled HOBr+Br", 93, 423]].forEach(([txt, x, y]) => {
  const t = lg.append("text").attr("transform", `translate(${x},${y}) rotate(-90)`)
    .attr("font-size", 19).attr("fill", "#000");
  rich(t, [txt, ["2"]], 5);
});
</script>
</body>
</html>
